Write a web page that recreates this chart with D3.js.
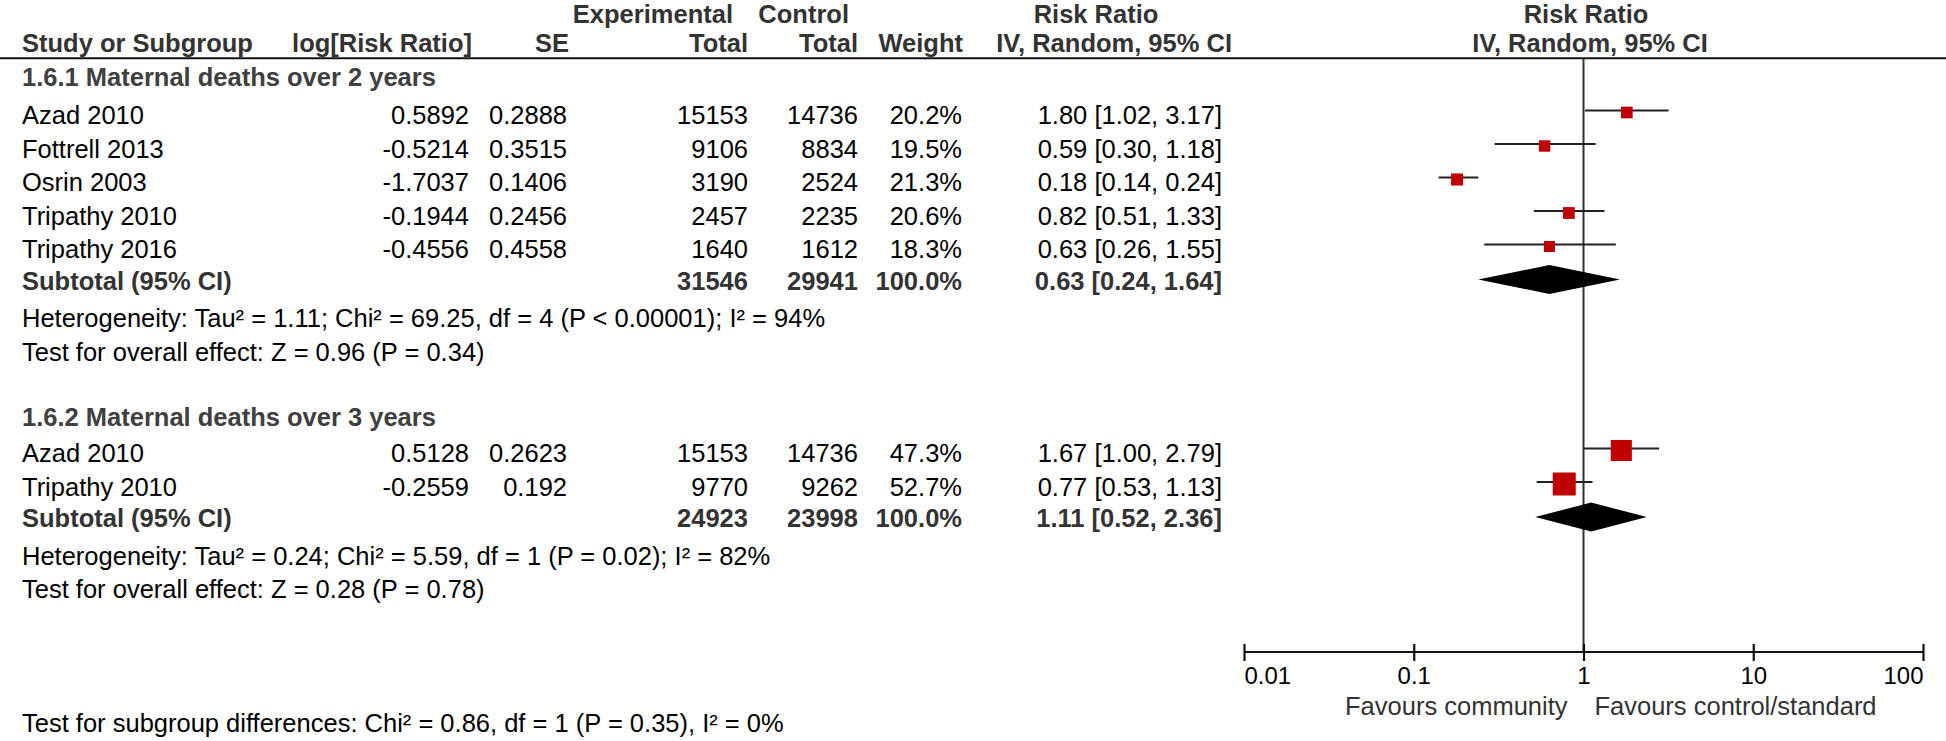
<!DOCTYPE html>
<html lang="en">
<head>
    <meta charset="UTF-8">
    <title>Forest plot</title>
    <script src="https://cdn.jsdelivr.net/npm/d3@7"></script>
    <style>
        body { margin: 0; background: #fff; }
        svg text { font-family: "Liberation Sans", Arial, sans-serif; font-size: 25.5px; }
    </style>
</head>
<body>
<div id="plot"></div>
<script>
    // 1.6.1 Maternal deaths over 2 years
    var studies1 = ["Azad 2010", "Fottrell 2013", "Osrin 2003", "Tripathy 2010", "Tripathy 2016"];
    var logRR1 = ["0.5892", "-0.5214", "-1.7037", "-0.1944", "-0.4556"];
    var se1 = ["0.2888", "0.3515", "0.1406", "0.2456", "0.4558"];
    var expTotal1 = [15153, 9106, 3190, 2457, 1640];
    var ctrlTotal1 = [14736, 8834, 2524, 2235, 1612];
    var weight1 = [20.2, 19.5, 21.3, 20.6, 18.3];
    var rr1 = [1.80, 0.59, 0.18, 0.82, 0.63];
    var lo1 = [1.02, 0.30, 0.14, 0.51, 0.26];
    var hi1 = [3.17, 1.18, 0.24, 1.33, 1.55];

    // 1.6.2 Maternal deaths over 3 years
    var studies2 = ["Azad 2010", "Tripathy 2010"];
    var logRR2 = ["0.5128", "-0.2559"];
    var se2 = ["0.2623", "0.192"];
    var expTotal2 = [15153, 9770];
    var ctrlTotal2 = [14736, 9262];
    var weight2 = [47.3, 52.7];
    var rr2 = [1.67, 0.77];
    var lo2 = [1.00, 0.53];
    var hi2 = [2.79, 1.13];

    // subtotals, one per subgroup
    var groupTitles = ["1.6.1 Maternal deaths over 2 years", "1.6.2 Maternal deaths over 3 years"];
    var subExp = [31546, 24923];
    var subCtrl = [29941, 23998];
    var subWeight = [100.0, 100.0];
    var subRR = [0.63, 1.11];
    var subLo = [0.24, 0.52];
    var subHi = [1.64, 2.36];
    var heterogeneity = [
        "Heterogeneity: Tau² = 1.11; Chi² = 69.25, df = 4 (P < 0.00001); I² = 94%",
        "Heterogeneity: Tau² = 0.24; Chi² = 5.59, df = 1 (P = 0.02); I² = 82%"
    ];
    var overallEffect = [
        "Test for overall effect: Z = 0.96 (P = 0.34)",
        "Test for overall effect: Z = 0.28 (P = 0.78)"
    ];
    var subgroupTest = "Test for subgroup differences: Chi² = 0.86, df = 1 (P = 0.35), I² = 0%";

    var axisTicks = [0.01, 0.1, 1, 10, 100];
    var favours = ["Favours community", "Favours control/standard"];

    var groups = [
        {studies: studies1, logRR: logRR1, se: se1, exp: expTotal1, ctrl: ctrlTotal1, weight: weight1, rr: rr1, lo: lo1, hi: hi1},
        {studies: studies2, logRR: logRR2, se: se2, exp: expTotal2, ctrl: ctrlTotal2, weight: weight2, rr: rr2, lo: lo2, hi: hi2}
    ];

    var width = 1946, height = 741;
    var titleY = [86, 426];   // baseline of each subgroup title
    var rowStep = 33.5;
    var col = {name: 22, logrr: 469, se: 567, exp: 748, ctrl: 858, weight: 962, ci: 1222};
    var headColor = "#333";

    var svg = d3.select("#plot").append("svg")
            .attr("width", width)
            .attr("height", height);

    var x = d3.scaleLog()
            .domain([0.01, 100])
            .range([1244, 1923]);

    var boxSize = d3.scaleLinear()
            .domain([18.3, 52.7])
            .range([11, 23]);

    var fmt2 = function (v) { return v.toFixed(2); };
    var ciText = function (r, l, h) { return fmt2(r) + " [" + fmt2(l) + ", " + fmt2(h) + "]"; };

    function txt(s, xx, yy, anchor, bold, color) {
        return svg.append("text")
                .attr("x", xx)
                .attr("y", yy)
                .attr("text-anchor", anchor || "start")
                .style("font-weight", bold ? "bold" : "normal")
                .style("fill", color || "#000")
                .text(s);
    }

    // header
    txt("Experimental", 733, 23, "end", true, headColor);
    txt("Control", 849, 23, "end", true, headColor);
    txt("Risk Ratio", 1096, 23, "middle", true, headColor);
    txt("Risk Ratio", 1586, 23, "middle", true, headColor);
    txt("Study or Subgroup", col.name, 52, "start", true, headColor);
    txt("log[Risk Ratio]", 472, 52, "end", true, headColor);
    txt("SE", 569, 52, "end", true, headColor);
    txt("Total", col.exp, 52, "end", true, headColor);
    txt("Total", col.ctrl, 52, "end", true, headColor);
    txt("Weight", 963, 52, "end", true, headColor);
    txt("IV, Random, 95% CI", 1232, 52, "end", true, headColor);
    txt("IV, Random, 95% CI", 1590, 52, "middle", true, headColor);

    svg.append("line")
            .attr("x1", 0).attr("x2", width)
            .attr("y1", 58.3).attr("y2", 58.3)
            .attr("stroke", "#111")
            .attr("stroke-width", 2);

    // line of no effect
    svg.append("line")
            .attr("x1", x(1)).attr("x2", x(1))
            .attr("y1", 59).attr("y2", 652)
            .attr("stroke", "#333")
            .attr("stroke-width", 2);

    groups.forEach(function (g, gi) {
        var base = titleY[gi];
        var rowY = function (i) { return base + 38 - (gi ? 2 : 0) + rowStep * i; };
        var subY = rowY(g.studies.length - 1) + 31.5;

        txt(groupTitles[gi], col.name, base, "start", true, "#404040");

        g.studies.forEach(function (s, i) {
            var y = rowY(i);
            txt(s, col.name, y);
            txt(g.logRR[i], col.logrr, y, "end");
            txt(g.se[i], col.se, y, "end");
            txt(g.exp[i], col.exp, y, "end");
            txt(g.ctrl[i], col.ctrl, y, "end");
            txt(g.weight[i].toFixed(1) + "%", col.weight, y, "end");
            txt(ciText(g.rr[i], g.lo[i], g.hi[i]), col.ci, y, "end");

            svg.append("line")
                    .attr("x1", x(g.lo[i])).attr("x2", x(g.hi[i]))
                    .attr("y1", y - 13.5).attr("y2", y - 13.5)
                    .attr("stroke", "#222")
                    .attr("stroke-width", 2.2);
            var b = boxSize(g.weight[i]);
            svg.append("rect")
                    .attr("x", x(g.rr[i]) - b / 2)
                    .attr("y", y - 11.5 - b / 2)
                    .attr("width", b)
                    .attr("height", b)
                    .style("fill", "#c00000");
        });

        txt("Subtotal (95% CI)", col.name, subY, "start", true, headColor);
        txt(subExp[gi], col.exp, subY, "end", true, headColor);
        txt(subCtrl[gi], col.ctrl, subY, "end", true, headColor);
        txt(subWeight[gi].toFixed(1) + "%", col.weight, subY, "end", true, headColor);
        txt(ciText(subRR[gi], subLo[gi], subHi[gi]), col.ci, subY, "end", true, headColor);

        var cy = subY - 10;
        svg.append("polygon")
                .attr("points", [
                    [x(subLo[gi]), cy], [x(subRR[gi]), cy - 14.5],
                    [x(subHi[gi]), cy], [x(subRR[gi]), cy + 14.5]
                ].join(" "))
                .style("fill", "#000");

        txt(heterogeneity[gi], col.name, subY + 37.5);
        txt(overallEffect[gi], col.name, subY + 71);
    });

    txt(subgroupTest, col.name, 732);

    // log axis
    svg.append("line")
            .attr("x1", x(0.01)).attr("x2", x(100))
            .attr("y1", 652).attr("y2", 652)
            .attr("stroke", "#111")
            .attr("stroke-width", 2.2);

    var axis = svg.append("g")
            .attr("transform", "translate(0,644)")
            .call(d3.axisBottom(x)
                    .tickValues(axisTicks)
                    .tickFormat(function (d) { return d >= 1 ? d3.format("d")(d) : String(d); })
                    .tickSize(17)
                    .tickSizeOuter(0)
                    .tickPadding(6));
    axis.select(".domain").remove();
    axis.selectAll(".tick line")
            .attr("stroke", "#111")
            .attr("stroke-width", 2.2);
    axis.selectAll(".tick text")
            .style("font-family", "'Liberation Sans', Arial, sans-serif")
            .style("font-size", "24px")
            .style("fill", "#000")
            .attr("text-anchor", function (d, i) { return i === 0 ? "start" : (i === axisTicks.length - 1 ? "end" : "middle"); });

    txt(favours[0], x(1) - 16, 715, "end", false, "#333");
    txt(favours[1], x(1) + 11, 715, "start", false, "#333");
</script>
</body>
</html>
